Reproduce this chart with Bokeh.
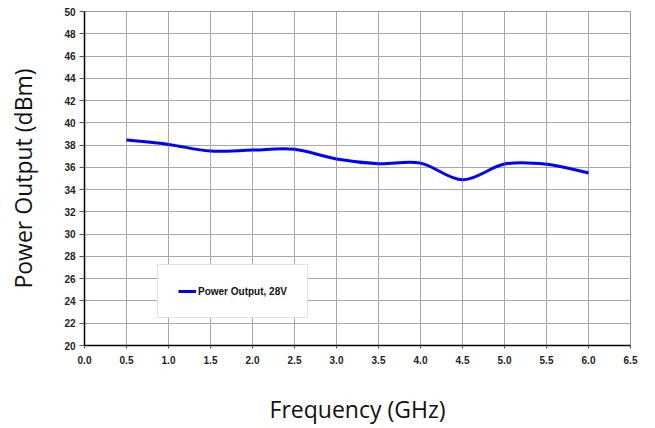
import numpy as np
from bokeh.plotting import figure
from bokeh.models import FixedTicker, NumeralTickFormatter, Legend, LegendItem, Range1d
from bokeh.embed import file_html
from bokeh.resources import INLINE

# Data
freq_ghz = [0.5, 1.0, 1.5, 2.0, 2.5, 3.0, 3.5, 4.0, 4.5, 5.0, 5.5, 6.0]
power_dbm = [38.45, 38.06, 37.46, 37.55, 37.62, 36.75, 36.33, 36.38, 34.88, 36.30, 36.28, 35.50]
series_name = "Power Output, 28V"
x_ticks = [0.0, 0.5, 1.0, 1.5, 2.0, 2.5, 3.0, 3.5, 4.0, 4.5, 5.0, 5.5, 6.0, 6.5]
y_ticks = list(range(20, 51, 2))

p = figure(width=655, height=428, output_backend="svg", toolbar_location=None,
           x_range=Range1d(0, 6.5), y_range=Range1d(20, 50),
           min_border_left=84, min_border_right=25, min_border_top=11, min_border_bottom=83)
p.background_fill_color = "white"
p.border_fill_color = "white"
p.outline_line_color = "#9a9a9a"
p.outline_line_width = 1

# smooth curve (Excel-style) using Bezier segments built from the data points
xs = np.array(freq_ghz, dtype=float)
ys = np.array(power_dbm, dtype=float)
n = len(xs)
xp = np.concatenate([[xs[0]], xs, [xs[-1]]])
yp = np.concatenate([[ys[0]], ys, [ys[-1]]])
x0 = xs[:-1]; y0 = ys[:-1]; x1 = xs[1:]; y1 = ys[1:]
cx0 = x0 + (xp[2:n + 1] - xp[0:n - 1]) / 6.0
cy0 = y0 + (yp[2:n + 1] - yp[0:n - 1]) / 6.0
cx1 = x1 - (xp[3:n + 2] - xp[1:n]) / 6.0
cy1 = y1 - (yp[3:n + 2] - yp[1:n]) / 6.0
r = p.bezier(x0=x0, y0=y0, x1=x1, y1=y1, cx0=cx0, cy0=cy0, cx1=cx1, cy1=cy1,
             line_color="#0000FF", line_width=3)

# axes
for ax in (p.xaxis[0], p.yaxis[0]):
    ax.axis_line_color = "black"
    ax.axis_line_width = 1.5
    ax.major_tick_in = 0
    ax.minor_tick_line_color = None
    ax.major_tick_line_color = "#555555"
    ax.major_label_text_font = "Liberation Sans"
    ax.major_label_text_font_style = "bold"
    ax.major_label_text_font_size = "10px"
    ax.major_label_text_color = "#222222"
    ax.axis_label_text_font = "Open Sans"
    ax.axis_label_text_font_style = "normal"
    ax.axis_label_text_font_size = "23px"
    ax.axis_label_text_color = "#111111"

p.xaxis.ticker = FixedTicker(ticks=x_ticks)
p.xaxis.formatter = NumeralTickFormatter(format="0.0")
p.xaxis.major_tick_out = 3
p.xaxis.major_label_standoff = 7
p.xaxis.axis_label = "Frequency (GHz)"
p.xaxis.axis_label_standoff = 26

p.yaxis.ticker = FixedTicker(ticks=y_ticks)
p.yaxis.major_tick_out = 5
p.yaxis.major_label_standoff = 4
p.yaxis.axis_label = "Power Output (dBm)"
p.yaxis.axis_label_standoff = 22

p.xgrid.grid_line_color = "#a8a8a8"
p.ygrid.grid_line_color = "#a8a8a8"
p.xgrid.grid_line_width = 1
p.ygrid.grid_line_width = 1

legend = Legend(items=[LegendItem(label=series_name, renderers=[r])],
                location=(73, 27), padding=20, margin=0, glyph_width=18, glyph_height=12,
                label_height=12, label_standoff=2,
                label_text_font="Liberation Sans", label_text_font_style="bold",
                label_text_font_size="10px", label_text_color="#111111",
                border_line_color="#c4c4c4", border_line_width=1,
                background_fill_color="white", background_fill_alpha=1.0)
p.add_layout(legend)

open("out.html", "w").write(file_html(p, INLINE))
